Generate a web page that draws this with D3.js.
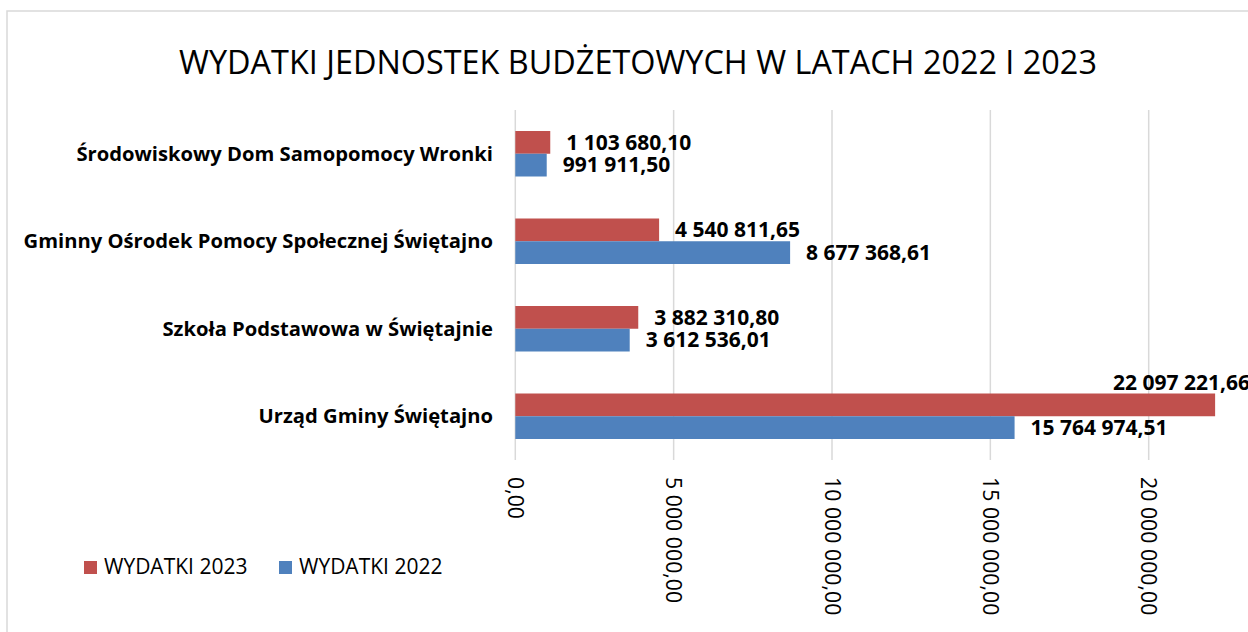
<!DOCTYPE html>
<html><head><meta charset="utf-8">
<script src="https://cdn.jsdelivr.net/npm/d3@7"></script>
<style>body{margin:0;background:#fff}svg{display:block}</style>
</head><body>
<svg id="c" width="1248" height="632"></svg>
<script>
const categories = [
  "Środowiskowy Dom Samopomocy Wronki",
  "Gminny Ośrodek Pomocy Społecznej Świętajno",
  "Szkoła Podstawowa w Świętajnie",
  "Urząd Gminy Świętajno"
];
const wydatki2023 = [1103680.10, 4540811.65, 3882310.80, 22097221.66];
const wydatki2022 = [991911.50, 8677368.61, 3612536.01, 15764974.51];
const seriesNames = ["WYDATKI 2023", "WYDATKI 2022"];
const tickValues = [0, 5000000, 10000000, 15000000, 20000000];
const title = "WYDATKI JEDNOSTEK BUDŻETOWYCH W LATACH 2022 I 2023";

const colors = ["#C0504D", "#4F81BD"];
const FONT = "'Open Sans', sans-serif";
const svg = d3.select("#c");

const fmt = v => {
  const s = v.toFixed(2).split(".");
  return s[0].replace(/\B(?=(\d{3})+(?!\d))/g, " ") + "," + s[1];
};

svg.append("rect").attr("width",1248).attr("height",632).attr("fill","#fff");
svg.append("rect").attr("x",7).attr("y",11).attr("width",1260).attr("height",640)
  .attr("fill","none").attr("stroke","#d9d9d9").attr("stroke-width",1.5);

svg.append("text").attr("x",638).attr("y",74).attr("text-anchor","middle")
  .attr("font-family",FONT).attr("font-size",32.4).attr("fill","#000").text(title);

const x = d3.scaleLinear().domain([0, 25000000]).range([515.3, 515.3 + 25*31.67]);
const y = d3.scaleBand().domain(categories).range([110, 460]).paddingInner(0.48).paddingOuter(0.24);
const ys = d3.scaleBand().domain(seriesNames).range([0, y.bandwidth()]);

// gridlines
svg.append("g").selectAll("line").data(tickValues).join("line")
  .attr("x1", d => x(d)).attr("x2", d => x(d)).attr("y1", 110).attr("y2", 460)
  .attr("stroke", "#d9d9d9").attr("stroke-width", 1.5);

// tick labels
svg.append("g").selectAll("text").data(tickValues).join("text")
  .attr("transform", d => `translate(${x(d)},477) rotate(90)`)
  .attr("dy", "0.35em").attr("font-family", FONT).attr("font-size", 21.3).attr("fill","#000")
  .text(fmt);

// category labels
svg.append("g").selectAll("text").data(categories).join("text")
  .attr("x", 493).attr("y", d => y(d) + y.bandwidth()/2).attr("dy","0.35em")
  .attr("text-anchor","end").attr("font-family",FONT).attr("font-weight","bold")
  .attr("font-size",20.2).attr("fill","#000").text(d => d);

const series = [wydatki2023, wydatki2022];
series.forEach((vals, si) => {
  const g = svg.append("g");
  g.selectAll("rect").data(vals).join("rect")
    .attr("x", x(0)).attr("y", (d,i) => y(categories[i]) + ys(seriesNames[si]))
    .attr("width", d => x(d) - x(0)).attr("height", ys.bandwidth())
    .attr("fill", colors[si]);
  g.selectAll("text").data(vals).join("text")
    .attr("font-family",FONT).attr("font-weight","bold").attr("font-size",21).attr("fill","#000")
    .attr("dy","0.35em")
    .each(function(d,i){
      const t = d3.select(this);
      const top = y(categories[i]) + ys(seriesNames[si]);
      if (x(d) + 160 > 1248) {
        t.attr("x", x(d) - 102).attr("y", top - 11);
      } else {
        t.attr("x", x(d) + 16).attr("y", top + ys.bandwidth()/2);
      }
    })
    .text(fmt);
});

// legend
const lg = svg.append("g");
const legX = [84, 279];
seriesNames.forEach((n, i) => {
  lg.append("rect").attr("x", legX[i]).attr("y", 561).attr("width", 13).attr("height", 13).attr("fill", colors[i]);
  lg.append("text").attr("x", legX[i] + 20).attr("y", 574).attr("font-family",FONT)
    .attr("font-size",21).attr("fill","#000").text(n);
});
</script>
</body></html>
